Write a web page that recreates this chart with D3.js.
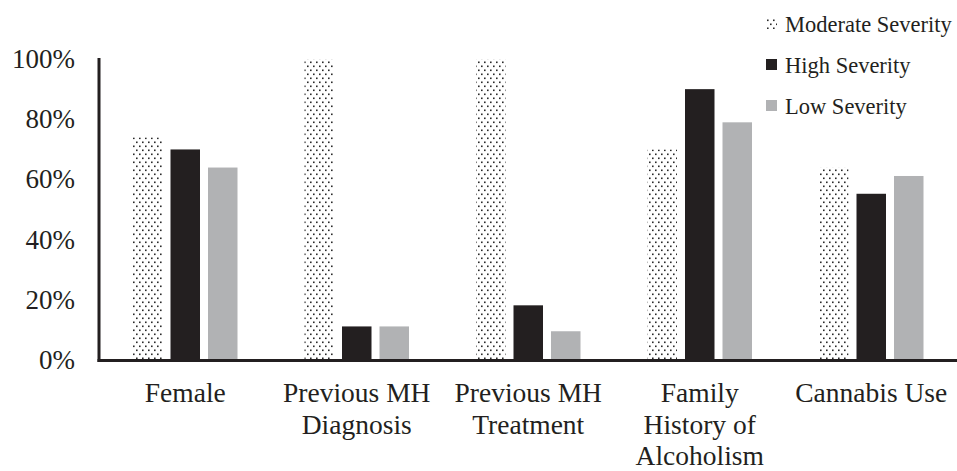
<!DOCTYPE html>
<html>
<head>
<meta charset="utf-8">
<script src="https://cdn.jsdelivr.net/npm/d3@7/dist/d3.min.js"></script>
<style>
  html, body { margin: 0; padding: 0; background: #fff; }
  svg { display: block; }
  text { font-family: "Liberation Serif", "Times New Roman", serif; fill: #231f20; }
</style>
</head>
<body>
<svg id="chart" width="957" height="471"></svg>
<script>
const categories = [
  ["Female"],
  ["Previous MH", "Diagnosis"],
  ["Previous MH", "Treatment"],
  ["Family", "History of", "Alcoholism"],
  ["Cannabis Use"]
];
const seriesNames = ["Moderate Severity", "High Severity", "Low Severity"];
const moderate = [74, 100, 100, 70, 64];
const high = [70, 11.3, 18.3, 90, 55.3];
const low = [64, 11.3, 9.7, 79, 61.2];
const yTicks = [0, 20, 40, 60, 80, 100];

const seriesValues = [moderate, high, low];
const colors = ["url(#dots)", "#231f20", "#b1b2b4"];

const svg = d3.select("#chart");
const defs = svg.append("defs");
const pat = defs.append("pattern")
  .attr("id", "dots").attr("patternUnits", "userSpaceOnUse")
  .attr("width", 6).attr("height", 8);
pat.append("rect").attr("width", 6).attr("height", 8).attr("fill", "#fff");
pat.append("rect").attr("x", 1).attr("y", 1.5).attr("width", 1.6).attr("height", 1.6).attr("fill", "#2a2a2a");
pat.append("rect").attr("x", 4).attr("y", 5.5).attr("width", 1.6).attr("height", 1.6).attr("fill", "#2a2a2a");

const x = d3.scaleBand().domain(d3.range(categories.length)).range([99.5, 957]).padding(0);
const xSub = d3.scaleBand().domain(d3.range(seriesNames.length)).range([-52.25, 52.25]).paddingInner(0.2133);
const y = d3.scaleLinear().domain([0, 100]).range([360.5, 59]);

// bars
seriesValues.forEach((vals, si) => {
  svg.append("g").selectAll("rect").data(vals).join("rect")
    .attr("x", (d, i) => x(i) + x.bandwidth() / 2 + xSub(si))
    .attr("width", xSub.bandwidth())
    .attr("y", d => y(d))
    .attr("height", d => y(0) - y(d))
    .attr("fill", colors[si]);
});

// y axis
const yAxis = d3.axisLeft(y).tickValues(yTicks).tickFormat(d => d + "%").tickSize(0).tickPadding(24);
const gy = svg.append("g").attr("transform", "translate(99,0)").call(yAxis);
gy.select(".domain").attr("stroke", "#231f20").attr("stroke-width", 3).attr("d", `M0,${y(100) - 1}V${y(0) + 1.5}`);
gy.selectAll(".tick text").attr("font-size", 27).attr("font-family", "Liberation Serif").attr("fill", "#231f20").attr("dy", "0.3em");

// x axis
const xAxis = d3.axisBottom(x).tickSize(0).tickFormat("");
const gx = svg.append("g").attr("transform", `translate(0,${y(0)})`).call(xAxis);
gx.select(".domain").attr("stroke", "#231f20").attr("stroke-width", 3).attr("d", "M97.5,0H957");
gx.selectAll(".tick").each(function(d) {
  const t = d3.select(this).append("text")
    .attr("text-anchor", "middle").attr("font-size", 27.5).attr("fill", "#231f20")
    .attr("font-family", "Liberation Serif");
  categories[d].forEach((line, li) => {
    t.append("tspan").attr("x", 0).attr("y", 41.5 + li * 31.5).text(line);
  });
});

// legend
const legend = svg.append("g");
seriesNames.forEach((name, i) => {
  const g = legend.append("g").attr("transform", `translate(766,${18 + i * 41})`);
  g.append("rect").attr("width", 11).attr("height", 11).attr("fill", colors[i]);
  g.append("text").attr("x", 19).attr("y", 14).attr("font-size", 22.5).text(name);
});
</script>
</body>
</html>
